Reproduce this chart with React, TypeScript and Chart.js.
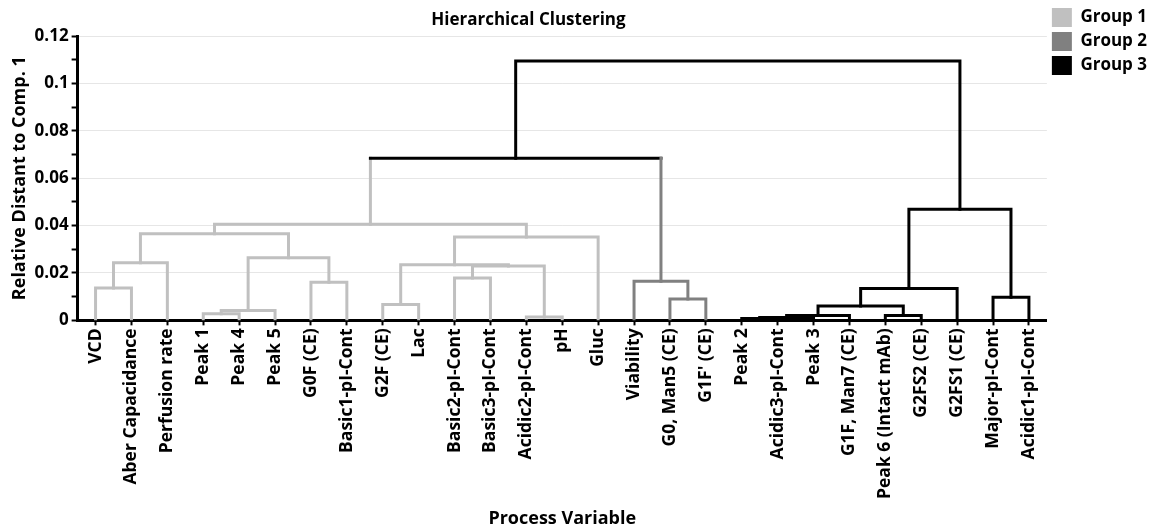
import React, { useEffect, useRef } from 'react';
import { Chart, registerables } from 'chart.js';

Chart.register(...registerables);

// ---------- data ----------
const variables = [
  'VCD', 'Aber Capacidance', 'Perfusion rate', 'Peak 1', 'Peak 4', 'Peak 5',
  'G0F (CE)', 'Basic1-pI-Cont', 'G2F (CE)', 'Lac', 'Basic2-pI-Cont', 'Basic3-pI-Cont',
  'Acidic2-pI-Cont', 'pH', 'Gluc', 'Viability', 'G0, Man5 (CE)', "G1F' (CE)",
  'Peak 2', 'Acidic3-pI-Cont', 'Peak 3', 'G1F, Man7 (CE)', 'Peak 6 (Intact mAb)',
  'G2FS2 (CE)', 'G2FS1 (CE)', 'Major-pI-Cont', 'Acidic1-pI-Cont',
];

// linkage: node ids 0..26 are leaves, merge k creates node 27 + k
const mergeLeft = [0, 27, 3, 29, 6, 30, 28, 8, 10, 12, 35, 34, 38, 33, 16, 15, 40, 18, 44, 45, 22, 46, 48, 25, 49, 43];
const mergeRight = [1, 2, 4, 5, 7, 31, 32, 9, 11, 13, 36, 37, 14, 39, 17, 41, 42, 19, 20, 21, 23, 47, 24, 26, 50, 51];
const mergeHeight = [
  0.0137, 0.0243, 0.0028, 0.0042, 0.0161, 0.0264, 0.0366, 0.0067, 0.0179, 0.0014,
  0.0229, 0.0235, 0.0352, 0.0406, 0.0090, 0.0165, 0.0684, 0.0008, 0.0012, 0.0021,
  0.0020, 0.0061, 0.0134, 0.0098, 0.0469, 0.1095,
];
// 0 = link between groups, 1..3 = group number
const mergeGroup = [1, 1, 1, 1, 1, 1, 1, 1, 1, 1, 1, 1, 1, 1, 2, 2, 0, 3, 3, 3, 3, 3, 3, 3, 3, 0];

const groupNames = ['Group 1', 'Group 2', 'Group 3'];
const groupColors = ['#000000', '#c0c0c0', '#808080', '#000000'];

const yMajorTicks = [0, 0.02, 0.04, 0.06, 0.08, 0.1, 0.12];
const yMajorLabels = ['0', '0.02', '0.04', '0.06', '0.08', '0.1', '0.12'];
const yMinorTicks = [0.01, 0.03, 0.05, 0.07, 0.09, 0.11];

const FONT = '"Open Sans", "DejaVu Sans", sans-serif';

function buildDatasets() {
  const n = variables.length;
  const xPos: number[] = variables.map((_, i) => i);
  const hPos: number[] = variables.map(() => 0);
  const nodeGroup: number[] = variables.map(() => 0);
  mergeLeft.forEach((l, k) => {
    const r = mergeRight[k];
    if (l < n) nodeGroup[l] = mergeGroup[k];
    if (r < n) nodeGroup[r] = mergeGroup[k];
  });
  const sets: any[] = [];
  mergeLeft.forEach((l, k) => {
    const r = mergeRight[k];
    const h = mergeHeight[k];
    const id = n + k;
    xPos[id] = (xPos[l] + xPos[r]) / 2;
    hPos[id] = h;
    nodeGroup[id] = mergeGroup[k];
    const cL = groupColors[nodeGroup[l]];
    const cR = groupColors[nodeGroup[r]];
    const cM = groupColors[mergeGroup[k]];
    sets.push({
      data: [
        { x: xPos[l], y: hPos[l] },
        { x: xPos[l], y: h },
        { x: xPos[r], y: h },
        { x: xPos[r], y: hPos[r] },
      ],
      borderColor: cM,
      borderWidth: 3,
      pointRadius: 0,
      tension: 0,
      fill: false,
      borderCapStyle: 'square',
      borderJoinStyle: 'miter',
      segment: {
        borderColor: (ctx: any) => (ctx.p0DataIndex === 0 ? cL : ctx.p0DataIndex === 2 ? cR : cM),
      },
    });
  });
  return sets;
}

const isMajor = (v: number) => yMajorTicks.findIndex((m) => Math.abs(m - v) < 1e-9);

const titleShift = {
  id: 'titleShift',
  afterLayout(chart: any) {
    const t = chart.titleBlock;
    const lg = chart.legend;
    if (t && lg) {
      t.left = 0;
      t.right = lg.left + 10;
    }
  },
};

export default function App() {
  const ref = useRef<HTMLCanvasElement | null>(null);
  useEffect(() => {
    document.body.style.margin = '0';
    const canvas = ref.current;
    if (!canvas) return;
    const chart = new Chart(canvas, {
      type: 'line',
      data: { datasets: buildDatasets() },
      plugins: [titleShift],
      options: {
        animation: false,
        responsive: false,
        layout: { padding: { top: 3, left: 6, right: -7, bottom: 0 } },
        plugins: {
          title: {
            display: true,
            text: 'Hierarchical Clustering',
            fullSize: false,
            color: '#000',
            font: { family: FONT, size: 17, weight: 'bold' },
            padding: { top: 7, bottom: 5.6 },
          },
          legend: {
            position: 'right',
            align: 'start',
            onClick: () => {},
            labels: {
              boxWidth: 20,
              boxHeight: 19,
              padding: 5,
              color: '#000',
              font: { family: FONT, size: 17, weight: 'bold' },
              generateLabels: () =>
                groupNames.map((g, i) => ({
                  text: g,
                  fillStyle: groupColors[i + 1],
                  strokeStyle: groupColors[i + 1],
                  lineWidth: 0,
                  hidden: false,
                  fontColor: '#000',
                })),
            },
          },
          tooltip: { enabled: false },
        },
        scales: {
          x: {
            type: 'linear',
            min: -0.5,
            max: 26.5,
            afterBuildTicks: (ax: any) => {
              ax.ticks = variables.map((_, i) => ({ value: i }));
            },
            ticks: {
              autoSkip: false,
              maxRotation: 90,
              minRotation: 90,
              padding: 3,
              color: '#000',
              font: { family: FONT, size: 17.5, weight: 'bold' },
              callback: (v: any) => variables[Math.round(Number(v))] ?? '',
            },
            grid: { drawOnChartArea: false, tickLength: 5, tickColor: '#000', tickWidth: 2 },
            border: { color: '#000', width: 3 },
            title: {
              display: true,
              text: 'Process Variable',
              color: '#000',
              font: { family: FONT, size: 18, weight: 'bold', lineHeight: 1 },
              padding: { top: 8, bottom: 0 },
            },
          },
          y: {
            type: 'linear',
            min: 0,
            max: 0.12,
            afterBuildTicks: (ax: any) => {
              ax.ticks = [...yMajorTicks, ...yMinorTicks].sort((a, b) => a - b).map((v) => ({ value: v }));
            },
            ticks: {
              autoSkip: false,
              padding: 3,
              color: '#000',
              font: { family: FONT, size: 17, weight: 'bold' },
              callback: (v: any) => {
                const i = isMajor(Number(v));
                return i >= 0 ? yMajorLabels[i] : '';
              },
            },
            grid: {
              color: (ctx: any) => (ctx.tick && isMajor(ctx.tick.value) >= 0 ? '#e6e6e6' : 'rgba(0,0,0,0)'),
              lineWidth: 1,
              tickLength: 6,
              tickColor: '#000',
              tickWidth: 2,
            },
            border: { color: '#000', width: 3 },
            title: {
              display: true,
              text: 'Relative Distant to Comp. 1',
              color: '#000',
              font: { family: FONT, size: 18, weight: 'bold' },
              padding: { top: 3, bottom: 1 },
            },
          },
        },
      } as any,
    });
    return () => chart.destroy();
  }, []);
  return (
    <div style={{ position: 'absolute', left: 0, top: 0, width: 1150, height: 528 }}>
      <canvas ref={ref} width={1150} height={528} style={{ display: 'block' }} />
    </div>
  );
}
